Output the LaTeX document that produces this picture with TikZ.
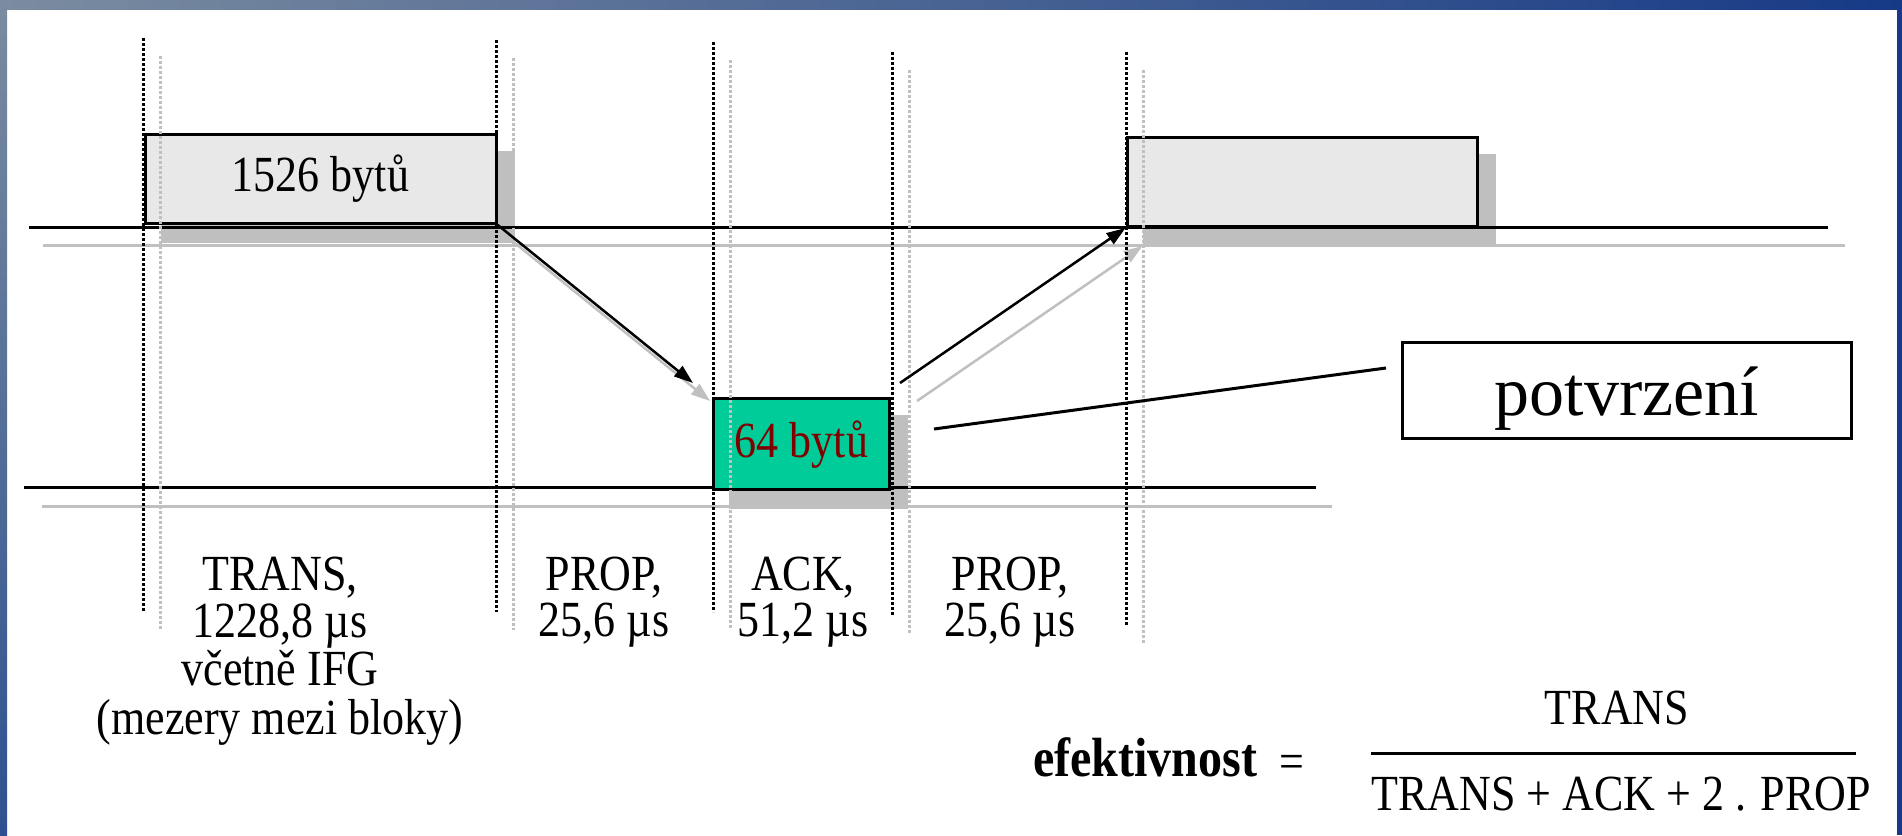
\documentclass[tikz,border=0pt]{standalone}
\usepackage{fontspec}
\setmainfont{Liberation Serif}
\usepackage{graphicx}
\usetikzlibrary{arrows.meta,calc}
\definecolor{boxgray}{HTML}{E8E8E8}
\definecolor{ackgreen}{HTML}{00CC99}
\definecolor{ackred}{HTML}{800000}
\definecolor{shgray}{HTML}{C0C0C0}
\definecolor{frameA}{HTML}{7B8CA0}
\definecolor{frameB}{HTML}{163A86}
\definecolor{frameC}{HTML}{2D5190}
\newcommand\tl[1]{\scalebox{1}[1.15]{#1}}
\newcommand\fb{\fontsize{44}{39}\selectfont}
\pgfdeclarelayer{bg}
\pgfdeclarelayer{lines}
\pgfsetlayers{bg,lines,main}
\begin{document}
\begin{tikzpicture}[x=1pt,y=-1pt,
  hline/.style={line width=3pt},
  gry/.style={draw=shgray, fill=shgray},
  vdot/.style={line width=3pt, dash pattern=on 2.5pt off 2.5pt},
  pkt/.style={draw=black, line width=3pt, inner sep=0pt},
  shad/.style={fill=black, fill opacity=0.25},
  arr/.style={line width=2.5pt, -{Triangle[length=19pt,width=13pt]}},
  lab/.style={anchor=base, inner sep=0pt, font=\fb},
]
\useasboundingbox (0,0) rectangle (1902,835);
\begin{pgfonlayer}{bg}
\fill[white] (0,0) rectangle (1902,835);
\shade[left color=frameA, right color=frameB] (0,0) rectangle (1902,9);
\shade[top color=frameA, bottom color=frameC] (0,0) rectangle (7,835);
\fill[frameB] (1897,9) rectangle (1902,835);
\end{pgfonlayer}

% packet boxes
\node[pkt, fill=boxgray, minimum width=351pt, minimum height=88.6pt, font=\fb] (b1) at (320.5,179) {\tl{1526 bytů}};
\node[pkt, fill=ackgreen, minimum width=176pt, minimum height=90.7pt, font=\fb, text=ackred] (ack) at (801.6,444.3) {\tl{64 bytů}};
\node[pkt, fill=boxgray, minimum width=350pt, minimum height=89pt] (b3) at (1302,182) {};

% shadows
\begin{pgfonlayer}{bg}
\foreach \n in {b1,ack,b3}
  \fill[shad] ($(\n.north west)+(17,18)$) rectangle ($(\n.south east)+(17,18)$);
\end{pgfonlayer}

\coordinate (a1tip) at (693,383);
\coordinate (a2s) at (900,383);

% lines and shadow arrows
\begin{pgfonlayer}{lines}
\draw[hline,shgray] (43,245) -- (1845,245);
\draw[hline,shgray] (42,506) -- (1332,506);
\draw[arr,gry] ($(b1.south east)+(17,18)$) -- ($(a1tip)+(17,18)$);
\draw[arr,gry] ($(a2s)+(17,18)$) -- ($(b3.south west)+(17,18)$);
\draw[hline] (29,227) -- (1828,227);
\draw[hline] (24,487) -- (1316,487);
\end{pgfonlayer}

% dotted verticals
\foreach \x/\t/\b in {143/38/612, 496/40/612, 713/42/612, 892/52/615, 1126/52/625}{
  \draw[vdot,shgray] (\x+17,\t+18) -- (\x+17,\b+18);
}
\foreach \x/\t/\b in {143/38/612, 496/40/612, 713/42/612, 892/52/615, 1126/52/625}{
  \draw[vdot,black] (\x,\t) -- (\x,\b);
}

% arrows
\draw[arr] (b1.south east) -- (a1tip);
\draw[arr] (a2s) -- (b3.south west);

% potvrzeni
\node[pkt, fill=white, minimum width=449pt, minimum height=96pt, font=\fontsize{70}{80}\selectfont, text height=55pt, text depth=4pt] (pot) at (1626.8,390.4) {potvrzení};
\coordinate (cs) at (934,429);
\coordinate (ce) at (1386,368);
\draw[line width=3pt] (cs) -- (ce);

% labels
\node[lab] (l1) at (280,590) {\tl{\begin{tabular}[t]{@{}c@{}}TRANS,\\1228,8 µs\\včetně IFG\\(mezery mezi bloky)\end{tabular}}};
\node[lab] (l2) at (604,590) {\tl{\begin{tabular}[t]{@{}c@{}}PROP,\\25,6 µs\end{tabular}}};
\node[lab] (l3) at (803,590) {\tl{\begin{tabular}[t]{@{}c@{}}ACK,\\51,2 µs\end{tabular}}};
\node[lab] (l4) at (1010,590) {\tl{\begin{tabular}[t]{@{}c@{}}PROP,\\25,6 µs\end{tabular}}};

% formula
\node[anchor=base west, inner sep=0pt, font=\fontsize{48}{52}\selectfont\bfseries] (eff) at (1033,776) {\tl{efektivnost}};
\node[lab] (eq) at (1292,778) {\tl{=}};
\node[lab] (num) at (1617,724) {\tl{TRANS}};
\node[lab] (den) at (1621,810) {\tl{TRANS + ACK + 2 . PROP}};
\coordinate (barL) at (1371,753);
\coordinate (barR) at (1856,753);
\draw[line width=3pt] (barL) -- (barR);
\end{tikzpicture}
\end{document}
